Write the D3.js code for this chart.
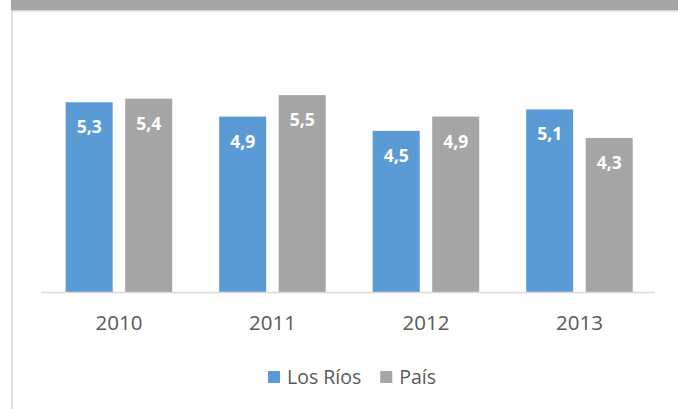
<!DOCTYPE html>
<html>
<head>
<meta charset="utf-8">
<script src="https://cdn.jsdelivr.net/npm/d3@7"></script>
<style>
  html, body { margin: 0; padding: 0; background: #ffffff; }
  svg { display: block; }
</style>
</head>
<body>
<svg id="chart" width="678" height="409"></svg>
<script>
// Years on the x axis
const years = ["2010", "2011", "2012", "2013"];
// Series names (legend order)
const seriesNames = ["Los Ríos", "País"];
// Values per series, one per year
const losRios = [5.3, 4.9, 4.5, 5.1];
const pais = [5.4, 5.5, 4.9, 4.3];
// Value labels as written on the bars
const losRiosLabels = ["5,3", "4,9", "4,5", "5,1"];
const paisLabels = ["5,4", "5,5", "4,9", "4,3"];

const colors = { "Los Ríos": "#5b9bd5", "País": "#a5a5a5" };

const rows = years.map((y, i) => ({
  year: y,
  values: [
    { series: seriesNames[0], value: losRios[i], label: losRiosLabels[i] },
    { series: seriesNames[1], value: pais[i], label: paisLabels[i] }
  ]
}));

const svg = d3.select("#chart");

// Header strip and frame
svg.append("rect").attr("x", 11).attr("y", 0).attr("width", 667).attr("height", 10.5).attr("fill", "#a5a5a5");
svg.append("line").attr("x1", 11).attr("x2", 678).attr("y1", 11).attr("y2", 11)
  .attr("stroke", "#d6d6d6").attr("stroke-width", 1);
svg.append("line").attr("x1", 12).attr("x2", 12).attr("y1", 11).attr("y2", 409)
  .attr("stroke", "#d9d9d9").attr("stroke-width", 1.5);

const baseline = 292;
const x0 = d3.scaleBand().domain(years).range([42.2, 656.2]).paddingInner(0.306).paddingOuter(0.153);
const x1 = d3.scaleBand().domain(seriesNames).range([0, x0.bandwidth()]).paddingInner(0.21).paddingOuter(0);
const y = d3.scaleLinear().domain([0, 6]).range([baseline, baseline - 6 * 35.8]);

const groups = svg.append("g").selectAll("g").data(rows).join("g")
  .attr("transform", d => `translate(${x0(d.year)},0)`);

groups.selectAll("rect").data(d => d.values).join("rect")
  .attr("x", d => x1(d.series))
  .attr("y", d => y(d.value))
  .attr("width", x1.bandwidth())
  .attr("height", d => baseline - y(d.value))
  .attr("fill", d => colors[d.series]);

groups.selectAll("text").data(d => d.values).join("text")
  .attr("x", d => x1(d.series) + x1.bandwidth() / 2)
  .attr("y", d => y(d.value) + 31)
  .attr("text-anchor", "middle")
  .attr("font-family", "'Open Sans', sans-serif")
  .attr("font-weight", "bold")
  .attr("font-size", 17.5)
  .attr("fill", "#ffffff")
  .text(d => d.label);

// Category axis
const axis = svg.append("g").attr("transform", `translate(0,${baseline})`)
  .call(d3.axisBottom(x0).tickSize(0).tickPadding(0));
axis.select(".domain").attr("d", "M41,0.5H655").attr("stroke", "#d9d9d9").attr("stroke-width", 1.5);
axis.selectAll(".tick text")
  .attr("dy", 0).attr("y", 38)
  .attr("font-family", "'Open Sans', Arial, sans-serif")
  .attr("font-size", 20.5)
  .attr("fill", "#595959");

// Legend
const legend = svg.append("g").attr("transform", "translate(268,0)");
let lx = 0;
seriesNames.forEach(name => {
  legend.append("rect").attr("x", lx).attr("y", 371).attr("width", 12).attr("height", 12).attr("fill", colors[name]);
  const t = legend.append("text").attr("x", lx + 19).attr("y", 384)
    .attr("font-family", "'Open Sans', Arial, sans-serif")
    .attr("font-size", 19.5)
    .attr("fill", "#595959")
    .text(name);
  lx += 19 + t.node().getComputedTextLength() + 19;
});
</script>
</body>
</html>
